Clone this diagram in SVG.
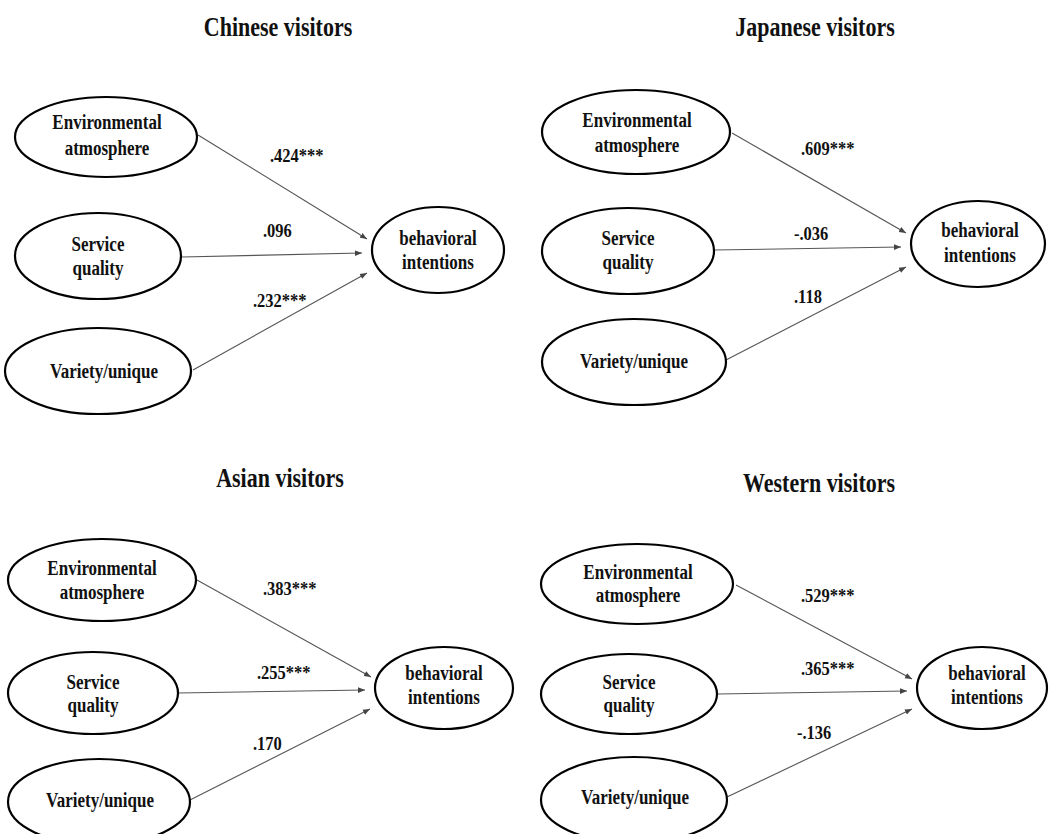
<svg xmlns="http://www.w3.org/2000/svg" width="1049" height="834" viewBox="0 0 1049 834">
<style>
.n{fill:#fff;stroke:#000;stroke-width:2.2}
.t{font-family:"Liberation Serif","Times New Roman",serif;font-weight:bold;font-size:17px;fill:#111;text-anchor:middle}
.h{font-family:"Liberation Serif","Times New Roman",serif;font-weight:bold;font-size:22px;fill:#111;text-anchor:middle}
.l{font-family:"Liberation Serif","Times New Roman",serif;font-weight:bold;font-size:16.5px;fill:#111}
.c{stroke:#555;stroke-width:1.1;fill:none;marker-end:url(#a)}
</style>
<defs>
<marker id="a" viewBox="0 0 10 10" refX="10" refY="5" markerWidth="7" markerHeight="7" orient="auto" markerUnits="userSpaceOnUse">
<path d="M0,1 L10,5 L0,9 z" fill="#444"/>
</marker>
</defs>
<rect width="1049" height="834" fill="#fff"/>
<g id="titles">
<text class="h" transform="translate(278 36) scale(1 1.2)">Chinese visitors</text>
<text class="h" transform="translate(815 36) scale(1 1.2)">Japanese visitors</text>
<text class="h" transform="translate(280 487) scale(1 1.2)">Asian visitors</text>
<text class="h" transform="translate(819 492) scale(1 1.2)">Western visitors</text>
</g>
<g id="connectors">
<line class="c" x1="198" y1="135" x2="367" y2="239"/>
<line class="c" x1="182" y1="257" x2="362" y2="253"/>
<line class="c" x1="193" y1="370" x2="367" y2="273"/>
<line class="c" x1="732" y1="133" x2="906" y2="233"/>
<line class="c" x1="714" y1="250" x2="901" y2="247"/>
<line class="c" x1="726" y1="360" x2="906" y2="267"/>
<line class="c" x1="197" y1="580" x2="371" y2="677"/>
<line class="c" x1="178" y1="693" x2="365" y2="690"/>
<line class="c" x1="190" y1="800" x2="370" y2="709"/>
<line class="c" x1="736" y1="585" x2="912" y2="679"/>
<line class="c" x1="717" y1="694" x2="907" y2="691"/>
<line class="c" x1="727" y1="797" x2="912" y2="709"/>
<text class="l" transform="translate(270 162) scale(1 1.17)">.424***</text>
<text class="l" transform="translate(263 237) scale(1 1.17)">.096</text>
<text class="l" transform="translate(253 307) scale(1 1.17)">.232***</text>
<text class="l" transform="translate(801 155) scale(1 1.17)">.609***</text>
<text class="l" transform="translate(794 240) scale(1 1.17)">-.036</text>
<text class="l" transform="translate(794 303) scale(1 1.17)">.118</text>
<text class="l" transform="translate(263 595) scale(1 1.17)">.383***</text>
<text class="l" transform="translate(257 679) scale(1 1.17)">.255***</text>
<text class="l" transform="translate(253 750) scale(1 1.17)">.170</text>
<text class="l" transform="translate(801 602) scale(1 1.17)">.529***</text>
<text class="l" transform="translate(801 675) scale(1 1.17)">.365***</text>
<text class="l" transform="translate(797 739) scale(1 1.17)">-.136</text>
</g>
<g id="cn-env"><ellipse class="n" cx="106" cy="137" rx="91" ry="40"/><text class="t" transform="translate(107 129) scale(1 1.17)">Environmental</text><text class="t" transform="translate(107 155) scale(1 1.17)">atmosphere</text></g>
<g id="cn-svc"><ellipse class="n" cx="98" cy="256" rx="83" ry="43"/><text class="t" transform="translate(98 251) scale(1 1.17)">Service</text><text class="t" transform="translate(98 275) scale(1 1.17)">quality</text></g>
<g id="cn-var"><ellipse class="n" cx="98" cy="371" rx="93" ry="43"/><text class="t" transform="translate(104 378) scale(1 1.17)">Variety/unique</text></g>
<g id="cn-bi"><ellipse class="n" cx="438" cy="250" rx="66" ry="43"/><text class="t" transform="translate(438 245) scale(1 1.17)">behavioral</text><text class="t" transform="translate(438 269) scale(1 1.17)">intentions</text></g>
<g id="jp-env"><ellipse class="n" cx="636" cy="132" rx="94" ry="42"/><text class="t" transform="translate(637 127) scale(1 1.17)">Environmental</text><text class="t" transform="translate(637 152) scale(1 1.17)">atmosphere</text></g>
<g id="jp-svc"><ellipse class="n" cx="628" cy="251" rx="86" ry="43"/><text class="t" transform="translate(628 245) scale(1 1.17)">Service</text><text class="t" transform="translate(628 269) scale(1 1.17)">quality</text></g>
<g id="jp-var"><ellipse class="n" cx="634" cy="362" rx="92" ry="43"/><text class="t" transform="translate(634 368) scale(1 1.17)">Variety/unique</text></g>
<g id="jp-bi"><ellipse class="n" cx="978" cy="244" rx="67" ry="43"/><text class="t" transform="translate(980 237) scale(1 1.17)">behavioral</text><text class="t" transform="translate(980 262) scale(1 1.17)">intentions</text></g>
<g id="as-env"><ellipse class="n" cx="102" cy="580" rx="94" ry="41"/><text class="t" transform="translate(102 575) scale(1 1.17)">Environmental</text><text class="t" transform="translate(102 599) scale(1 1.17)">atmosphere</text></g>
<g id="as-svc"><ellipse class="n" cx="93" cy="693" rx="85" ry="41"/><text class="t" transform="translate(93 689) scale(1 1.17)">Service</text><text class="t" transform="translate(93 712) scale(1 1.17)">quality</text></g>
<g id="as-var"><ellipse class="n" cx="99" cy="802" rx="91" ry="43"/><text class="t" transform="translate(100 807) scale(1 1.17)">Variety/unique</text></g>
<g id="as-bi"><ellipse class="n" cx="444" cy="688" rx="69" ry="41"/><text class="t" transform="translate(444 680) scale(1 1.17)">behavioral</text><text class="t" transform="translate(444 704) scale(1 1.17)">intentions</text></g>
<g id="we-env"><ellipse class="n" cx="637" cy="584" rx="96" ry="40"/><text class="t" transform="translate(638 579) scale(1 1.17)">Environmental</text><text class="t" transform="translate(638 602) scale(1 1.17)">atmosphere</text></g>
<g id="we-svc"><ellipse class="n" cx="629" cy="694" rx="88" ry="40"/><text class="t" transform="translate(629 689) scale(1 1.17)">Service</text><text class="t" transform="translate(629 712) scale(1 1.17)">quality</text></g>
<g id="we-var"><ellipse class="n" cx="634" cy="800" rx="93" ry="43"/><text class="t" transform="translate(635 804) scale(1 1.17)">Variety/unique</text></g>
<g id="we-bi"><ellipse class="n" cx="982" cy="688" rx="65" ry="41"/><text class="t" transform="translate(987 680) scale(1 1.17)">behavioral</text><text class="t" transform="translate(987 704) scale(1 1.17)">intentions</text></g>
</svg>
